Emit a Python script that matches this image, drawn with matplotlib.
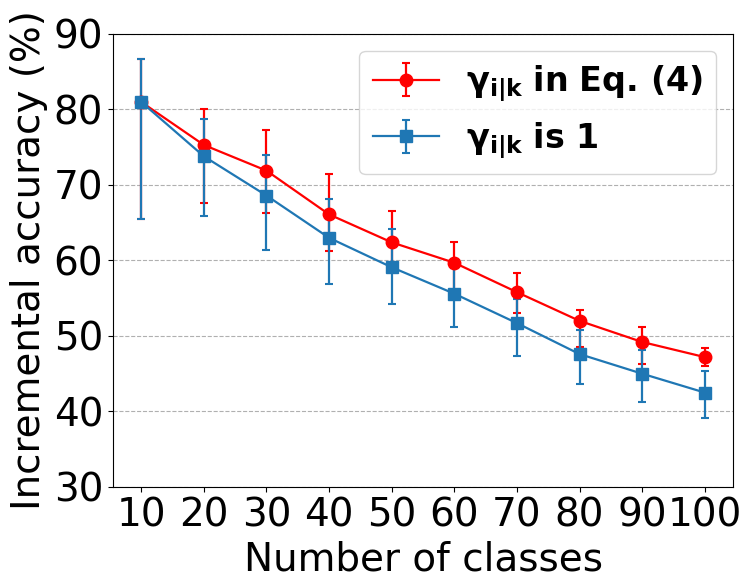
import numpy as np
import matplotlib
matplotlib.use('Agg')
import matplotlib.pyplot as plt

classes = [10, 20, 30, 40, 50, 60, 70, 80, 90, 100]

# gamma from Eq.(4)
eq4_mean = [81.0, 75.3, 71.9, 66.1, 62.4, 59.7, 55.8, 52.0, 49.2, 47.2]
eq4_low = [65.5, 67.6, 66.3, 61.3, 58.5, 56.0, 53.1, 48.6, 46.3, 46.0]
eq4_high = [86.7, 80.0, 77.3, 71.4, 66.5, 62.4, 58.4, 53.5, 51.2, 48.4]

# gamma fixed to 1
one_mean = [81.0, 73.8, 68.6, 63.0, 59.1, 55.6, 51.7, 47.6, 45.0, 42.5]
one_low = [65.5, 65.9, 61.4, 56.9, 54.3, 51.2, 47.4, 43.7, 41.3, 39.2]
one_high = [86.7, 78.8, 74.0, 68.2, 64.2, 59.0, 54.9, 50.8, 48.2, 45.4]


def err(mean, low, high):
    mean = np.array(mean)
    return [mean - np.array(low), np.array(high) - mean]


fig = plt.figure(figsize=(7.51, 5.88), dpi=100)
ax = fig.add_axes([0.1505, 0.1718, 0.8256, 0.7704])

ax.errorbar(classes, eq4_mean, yerr=err(eq4_mean, eq4_low, eq4_high),
            color='red', marker='o', markersize=9, linewidth=1.6,
            capsize=3, capthick=1.5,
            label=r'$\mathbf{\gamma_{i|k}\ in\ Eq.\,(4)}$')
ax.errorbar(classes, one_mean, yerr=err(one_mean, one_low, one_high),
            color='#1f77b4', marker='s', markersize=9, linewidth=1.6,
            capsize=3, capthick=1.5,
            label=r'$\mathbf{\gamma_{i|k}\ is\ 1}$')

ax.set_ylim(30, 90)
ax.set_xticks(classes)
ax.set_yticks(range(30, 91, 10))
ax.tick_params(labelsize=28)
ax.set_xlabel('Number of classes', fontsize=28)
ax.set_ylabel('Incremental accuracy (%)', fontsize=28)
ax.yaxis.grid(True, linestyle='--', color='#b0b0b0')

ax.legend(loc='upper right', prop={'size': 24, 'weight': 'bold'})

fig.savefig('out.png', dpi=100)
